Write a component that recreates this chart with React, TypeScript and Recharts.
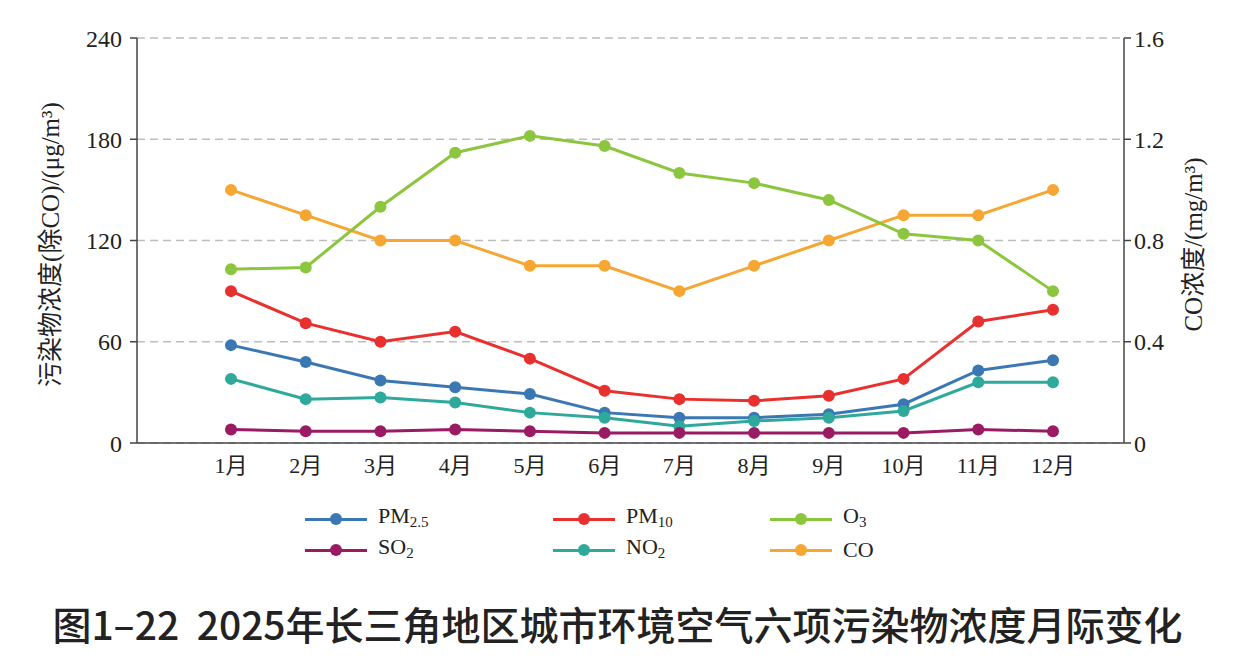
import {LineChart, Line, XAxis, YAxis, CartesianGrid, Label} from "recharts";

const months = ["1月", "2月", "3月", "4月", "5月", "6月", "7月", "8月", "9月", "10月", "11月", "12月"];
const pm25 = [58, 48, 37, 33, 29, 18, 15, 15, 17, 23, 43, 49];
const pm10 = [90, 71, 60, 66, 50, 31, 26, 25, 28, 38, 72, 79];
const o3 = [103, 104, 140, 172, 182, 176, 160, 154, 144, 124, 120, 90];
const so2 = [8, 7, 7, 8, 7, 6, 6, 6, 6, 6, 8, 7];
const no2 = [38, 26, 27, 24, 18, 15, 10, 13, 15, 19, 36, 36];
const co = [1.0, 0.9, 0.8, 0.8, 0.7, 0.7, 0.6, 0.7, 0.8, 0.9, 0.9, 1.0];

const leftTicks = [0, 60, 120, 180, 240];
const rightTicks = [0, 0.4, 0.8, 1.2, 1.6];

const serif = "'Liberation Serif', 'Noto Sans CJK SC', serif";

// legend order (3 columns, 2 rows)
const series = [
    {key: "pm25", base: "PM", sub: "2.5", color: "#3b78b3"},
    {key: "pm10", base: "PM", sub: "10", color: "#e8312f"},
    {key: "o3", base: "O", sub: "3", color: "#8cc63e"},
    {key: "so2", base: "SO", sub: "2", color: "#9a1b64"},
    {key: "no2", base: "NO", sub: "2", color: "#2fa99b"},
    {key: "co", base: "CO", sub: "", color: "#f6a632"},
];

const chartData = months.map((m, i) => ({
    month: m,
    pm25: pm25[i],
    pm10: pm10[i],
    o3: o3[i],
    so2: so2[i],
    no2: no2[i],
    co: co[i],
}));

// draw order: background lines first
const drawOrder = ["co", "o3", "pm10", "pm25", "no2", "so2"];

const colX = [305, 553, 770];
const rowY = [519, 550];

const LegendBlock = () => (
    <div style={{position: "absolute", left: 0, top: 0, width: 1235, height: 668, pointerEvents: "none"}}>
        {series.map((s, i) => {
            const x = colX[i % 3];
            const y = rowY[Math.floor(i / 3)];
            return (
                <div key={s.key} style={{position: "absolute", left: x, top: y - 15, height: 30, display: "flex", alignItems: "center"}}>
                    <div style={{position: "relative", width: 62, height: 30}}>
                        <div style={{position: "absolute", left: 0, top: 13.5, width: 62, height: 3, background: s.color}}/>
                        <div style={{position: "absolute", left: 25, top: 9, width: 12, height: 12, borderRadius: 6, background: s.color}}/>
                    </div>
                    <span style={{marginLeft: 11, fontFamily: serif, fontSize: 22, color: "#222", lineHeight: "30px"}}>
                        {s.base}
                        {s.sub && <sub style={{fontSize: 15, verticalAlign: "-4px"}}>{s.sub}</sub>}
                    </span>
                </div>
            );
        })}
    </div>
);

const App = () => {
    return (
        <div style={{position: "absolute", left: 0, top: 0, width: 1235, height: 668, background: "#fff"}}>
            <LineChart width={1235} height={500} data={chartData}
                       margin={{top: 38, right: 51, left: 77, bottom: 27}}>
                <CartesianGrid vertical={false} stroke="#bdbdbd" strokeDasharray="8 5" strokeWidth={1.5}
                               yAxisId="left"/>
                <XAxis dataKey="month" height={30} padding={{left: 94, right: 71}} tickLine={false}
                       axisLine={{stroke: "#444", strokeWidth: 1.5}}
                       tick={{fontFamily: serif, fontSize: 22, fill: "#222"}} dy={6}/>
                <YAxis yAxisId="left" width={60} domain={[0, 240]} ticks={leftTicks} interval={0}
                       tickSize={7} tickMargin={8}
                       axisLine={{stroke: "#444", strokeWidth: 1.5}} tickLine={{stroke: "#444", strokeWidth: 1.5}}
                       tick={{fontFamily: serif, fontSize: 24, fill: "#222"}}>
                    <Label content={({viewBox}: any) => (
                        <text x={viewBox.x - 27} y={viewBox.y + viewBox.height / 2 + 4}
                              transform={`rotate(-90, ${viewBox.x - 27}, ${viewBox.y + viewBox.height / 2 + 4})`}
                              textAnchor="middle" dominantBaseline="central"
                              fontFamily={serif} fontSize={25} fill="#222">
                            污染物浓度(除CO)/(μg/m³)
                        </text>
                    )}/>
                </YAxis>
                <YAxis yAxisId="right" orientation="right" width={60} domain={[0, 1.6]} ticks={rightTicks}
                       interval={0} tickSize={7} tickMargin={3}
                       axisLine={{stroke: "#444", strokeWidth: 1.5}} tickLine={{stroke: "#444", strokeWidth: 1.5}}
                       tick={{fontFamily: serif, fontSize: 24, fill: "#222"}}>
                    <Label content={({viewBox}: any) => (
                        <text x={viewBox.x + 69} y={viewBox.y + viewBox.height / 2 + 4}
                              transform={`rotate(-90, ${viewBox.x + 69}, ${viewBox.y + viewBox.height / 2 + 4})`}
                              textAnchor="middle" dominantBaseline="central"
                              fontFamily={serif} fontSize={25} fill="#222">
                            CO浓度/(mg/m³)
                        </text>
                    )}/>
                </YAxis>
                {drawOrder.map(k => {
                    const s = series.find(x => x.key === k)!;
                    return (
                        <Line key={k} yAxisId={k === "co" ? "right" : "left"} dataKey={k} stroke={s.color}
                              strokeWidth={3} isAnimationActive={false}
                              dot={{r: 6, fill: s.color, stroke: "none"}} activeDot={false}/>
                    );
                })}
            </LineChart>
            <LegendBlock/>
            <div style={{
                position: "absolute", left: 0, top: 600, width: 1235, textAlign: "center",
                fontFamily: "'Noto Sans CJK SC', 'Noto Sans', sans-serif", fontWeight: 500,
                fontSize: 39, lineHeight: "46px", color: "#222"
            }}>
                图1–22&nbsp;&nbsp;2025年长三角地区城市环境空气六项污染物浓度月际变化
            </div>
        </div>
    );
};

export default App;
